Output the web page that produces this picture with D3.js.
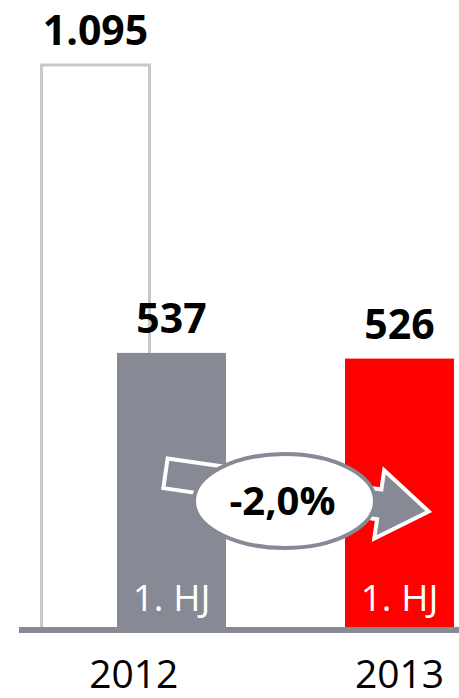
<!DOCTYPE html>
<html>
<head>
<meta charset="utf-8">
<script src="https://cdn.jsdelivr.net/npm/d3@7"></script>
<style>
  html, body { margin: 0; padding: 0; background: #fff; }
  svg { display: block; }
  text { font-family: "Open Sans", sans-serif; }
</style>
</head>
<body>
<svg id="chart" width="459" height="698"></svg>
<script>
// data
const years      = ["2012", "2013"];
const fullYear   = [1095, null];   // only 2012 has a full-year bar
const firstHalf  = [537, 526];
const halfLabel  = "1. HJ";

const W = 459, H = 698;
const BASE_Y  = 630;
const BAR_W   = 109;
const GREY    = "#878a94";
const RED     = "#ff0000";
const OUTLINE = "#c8c9cd";

const de = d3.formatLocale({ decimal: ",", thousands: ".", grouping: [3], currency: ["", " €"], minus: "-" });
const fmtVal = de.format(",");
const fmtPct = de.format(".1%");

const svg = d3.select("#chart");

const y = d3.scaleLinear().domain([0, 1095]).range([BASE_Y, 65]);
const xYear = d3.scaleBand().domain(years).range([57.5, 513.5]);

const rows = years.map((yr, i) => {
  const h1x = xYear(yr) + (xYear.bandwidth() - BAR_W) / 2;
  return { year: yr, full: fullYear[i], half: firstHalf[i], h1x, fx: h1x - 75.5 };
});

// full-year outline bar
svg.selectAll("rect.full")
  .data(rows.filter(d => d.full != null))
  .enter().append("rect")
    .attr("class", "full")
    .attr("x", d => d.fx)
    .attr("y", d => y(d.full))
    .attr("width", 108)
    .attr("height", d => BASE_Y - y(d.full))
    .attr("fill", "#fff")
    .attr("stroke", OUTLINE)
    .attr("stroke-width", 3);

// half-year bars
svg.selectAll("rect.half")
  .data(rows)
  .enter().append("rect")
    .attr("class", "half")
    .attr("x", d => d.h1x)
    .attr("y", d => y(d.half))
    .attr("width", BAR_W)
    .attr("height", d => BASE_Y - y(d.half))
    .attr("fill", (d, i) => i === 0 ? GREY : RED);

// baseline
svg.append("line")
  .attr("x1", 19).attr("x2", W)
  .attr("y1", BASE_Y).attr("y2", BASE_Y)
  .attr("stroke", GREY).attr("stroke-width", 6);

// "1. HJ" inside bars
svg.selectAll("text.hj")
  .data(rows)
  .enter().append("text")
    .attr("class", "hj")
    .attr("x", d => d.h1x + BAR_W / 2)
    .attr("y", 611)
    .attr("text-anchor", "middle")
    .attr("fill", "#fff")
    .attr("font-size", 37)
    .text(halfLabel);

// value labels
const labels = [];
rows.forEach(d => {
  if (d.full != null) labels.push({ x: d.fx + 54, v: d.full });
  labels.push({ x: d.h1x + BAR_W / 2, v: d.half });
});
svg.selectAll("text.val")
  .data(labels)
  .enter().append("text")
    .attr("class", "val")
    .attr("x", d => d.x)
    .attr("y", d => y(d.v) - 20)
    .attr("text-anchor", "middle")
    .attr("font-size", 41)
    .attr("font-weight", 700)
    .attr("fill", "#000")
    .text(d => fmtVal(d.v));

// year labels
svg.selectAll("text.year")
  .data(rows)
  .enter().append("text")
    .attr("class", "year")
    .attr("x", d => d.full != null ? (d.fx + d.h1x + BAR_W) / 2 : d.h1x + BAR_W / 2)
    .attr("y", 688)
    .attr("text-anchor", "middle")
    .attr("font-size", 39)
    .attr("fill", "#000")
    .text(d => d.year);

// change arrow
const c0 = rows[0].h1x + BAR_W / 2, c1 = rows[1].h1x + BAR_W / 2;
const start = [c0 - 8, 473], end = [c1 + 32.5, 512];
const ang = Math.atan2(end[1] - start[1], end[0] - start[0]) * 180 / Math.PI;
const arrowPts = [[2, -15], [218, -15], [218, -34.5], [268, 0], [218, 34.5], [218, 15], [2, 15]];
svg.append("path")
  .attr("d", d3.line()(arrowPts) + "Z")
  .attr("transform", `translate(${start[0]},${start[1]}) rotate(${ang})`)
  .attr("fill", GREY)
  .attr("stroke", "#fff")
  .attr("stroke-width", 4)
  .attr("stroke-linejoin", "miter");

// change bubble
const ex = (c0 + c1) / 2 - 1, ey = 501;
svg.append("ellipse")
  .attr("cx", ex).attr("cy", ey)
  .attr("rx", 90.5).attr("ry", 47)
  .attr("fill", "#fff")
  .attr("stroke", GREY)
  .attr("stroke-width", 4);

svg.append("text")
  .attr("x", ex - 2)
  .attr("y", 515)
  .attr("text-anchor", "middle")
  .attr("font-size", 40)
  .attr("font-weight", 700)
  .attr("fill", "#000")
  .text(fmtPct(firstHalf[1] / firstHalf[0] - 1));
</script>
</body>
</html>
